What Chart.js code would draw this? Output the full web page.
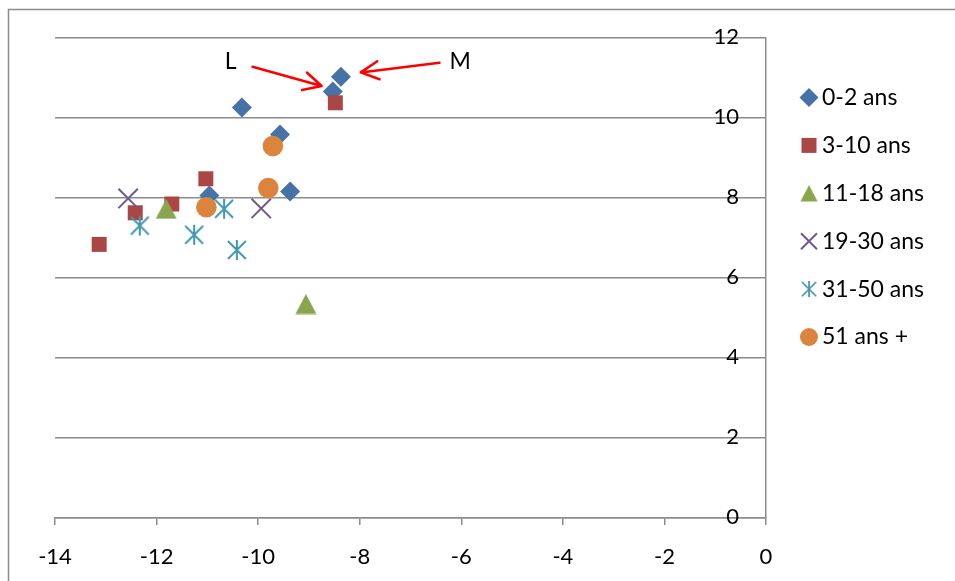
<!DOCTYPE html>
<html>
<head>
<meta charset="utf-8">
<script src="https://cdn.jsdelivr.net/npm/chart.js@4/dist/chart.umd.min.js"></script>
<style>
  html, body { margin: 0; padding: 0; background: #ffffff; }
  #wrap { width: 955px; height: 581px; }
</style>
</head>
<body>
<div id="wrap"><canvas id="c" width="955" height="581"></canvas></div>
<script>
// Age groups
const groupNames = ['0-2 ans', '3-10 ans', '11-18 ans', '19-30 ans', '31-50 ans', '51 ans +'];

// Coordinates of each group (x, y)
const age0_2x   = [-8.37, -8.53, -10.32, -9.57, -9.37, -10.96];
const age0_2y   = [11.03, 10.66, 10.26, 9.59, 8.16, 8.06];
const age3_10x  = [-8.48, -11.03, -11.70, -12.42, -13.13];
const age3_10y  = [10.38, 8.48, 7.85, 7.63, 6.84];
const age11_18x = [-11.81, -9.06];
const age11_18y = [7.73, 5.35];
const age19_30x = [-12.56, -9.94];
const age19_30y = [7.99, 7.74];
const age31_50x = [-12.33, -11.26, -10.67, -10.42];
const age31_50y = [7.31, 7.08, 7.73, 6.70];
const age51x    = [-9.71, -9.80, -11.02];
const age51y    = [9.30, 8.25, 7.77];

// Axis ranges
const xRange = [-14, 0];
const yRange = [0, 12];
const tickStep = 2;

// Callout labels and arrows (data units)
const calloutText = ['L', 'M'];
const calloutTextPos = [[-10.54, 11.41], [-6.02, 11.42]];
const calloutArrowFrom = [[-10.11, 11.28], [-6.43, 11.38]];
const calloutArrowTo = [[-8.75, 10.80], [-7.98, 11.14]];

const FONT = 'Lato, "Open Sans", sans-serif';

function pairs(xs, ys) { return xs.map((x, i) => ({ x: x, y: ys[i] })); }

// Filled triangle marker
function makeTriangle(color) {
  const c = document.createElement('canvas');
  c.width = 22; c.height = 21;
  const g = c.getContext('2d');
  g.fillStyle = color;
  g.beginPath();
  g.moveTo(11, 0.5); g.lineTo(21.5, 20.5); g.lineTo(0.5, 20.5); g.closePath();
  g.fill();
  return c;
}
// Six-armed asterisk marker
function makeAsterisk(color) {
  const c = document.createElement('canvas');
  c.width = 22; c.height = 22;
  const g = c.getContext('2d');
  g.strokeStyle = color; g.lineWidth = 2;
  g.beginPath();
  g.moveTo(11, 1); g.lineTo(11, 21);
  g.moveTo(2, 2); g.lineTo(20, 20);
  g.moveTo(20, 2); g.lineTo(2, 20);
  g.stroke();
  return c;
}

const triMarker = makeTriangle('#89a54e');
const starMarker = makeAsterisk('#4198af');

const datasets = [
  { label: groupNames[0], data: pairs(age0_2x, age0_2y), pointStyle: 'rectRot', pointRadius: 10,
    pointBackgroundColor: '#4572a7', pointBorderColor: '#4572a7', pointBorderWidth: 0, legendRadius: 9.5 },
  { label: groupNames[1], data: pairs(age3_10x, age3_10y), pointStyle: 'rect', pointRadius: 10.6,
    pointBackgroundColor: '#aa4643', pointBorderColor: '#aa4643', pointBorderWidth: 0, legendRadius: 10.6 },
  { label: groupNames[2], data: pairs(age11_18x, age11_18y), pointStyle: triMarker, pointRadius: 11,
    pointBackgroundColor: '#89a54e', pointBorderColor: '#89a54e', pointBorderWidth: 0, legendScale: 0.82 },
  { label: groupNames[3], data: pairs(age19_30x, age19_30y), pointStyle: 'crossRot', pointRadius: 13.7,
    pointBackgroundColor: '#71588f', pointBorderColor: '#71588f', pointBorderWidth: 2, legendRadius: 11.3 },
  { label: groupNames[4], data: pairs(age31_50x, age31_50y), pointStyle: starMarker, pointRadius: 11,
    pointBackgroundColor: '#4198af', pointBorderColor: '#4198af', pointBorderWidth: 0, legendScale: 0.8 },
  { label: groupNames[5], data: pairs(age51x, age51y), pointStyle: 'circle', pointRadius: 10.3,
    pointBackgroundColor: '#db843d', pointBorderColor: '#db843d', pointBorderWidth: 0, legendRadius: 9 }
].map((d, i) => Object.assign(d, { showLine: false, order: -i, pointHoverRadius: d.pointRadius }));

// Outer frame of the chart object
const framePlugin = {
  id: 'frame',
  beforeDraw(chart) {
    const ctx = chart.ctx;
    ctx.save();
    ctx.fillStyle = '#ffffff';
    ctx.fillRect(0, 0, chart.width, chart.height);
    ctx.strokeStyle = '#8c8c8c';
    ctx.lineWidth = 1.5;
    ctx.strokeRect(8.5, 9.5, chart.width + 20, chart.height + 20);
    ctx.restore();
  }
};

// Centre the value-axis numbers optically on their gridlines
const yLabelNudge = {
  id: 'yLabelNudge',
  beforeDraw(chart) {
    const s = chart.scales.y;
    const items = s.getLabelItems();
    if (!items._nudged) {
      items.forEach(it => { it.options.translation[1] -= 1.5; });
      items._nudged = true;
    }
  }
};

// Legend on the right, one marker + label per group
const sideLegend = {
  id: 'sideLegend',
  afterDraw(chart) {
    const ctx = chart.ctx;
    const area = chart.chartArea;
    const mx = area.right + 43, tx = area.right + 56;
    const y0 = 97.5, dy = 47.9;
    chart.data.datasets.forEach((ds, i) => {
      const y = y0 + i * dy;
      ctx.save();
      ctx.fillStyle = ds.pointBackgroundColor;
      ctx.strokeStyle = ds.pointBorderColor;
      ctx.lineWidth = ds.pointBorderWidth;
      if (ds.pointStyle instanceof HTMLCanvasElement) {
        const s = ds.legendScale || 1;
        const w = ds.pointStyle.width * s, h = ds.pointStyle.height * s;
        ctx.drawImage(ds.pointStyle, mx - w / 2, y - h / 2, w, h);
      } else {
        Chart.helpers.drawPoint(ctx, { pointStyle: ds.pointStyle, radius: ds.legendRadius, rotation: 0,
          borderWidth: ds.pointBorderWidth }, mx, y);
      }
      ctx.fillStyle = '#000000';
      ctx.font = '23px ' + FONT;
      ctx.textAlign = 'left';
      ctx.textBaseline = 'middle';
      ctx.fillText(ds.label, tx, y);
      ctx.restore();
    });
  }
};

// "L" and "M" callouts with red arrows
const callouts = {
  id: 'callouts',
  afterDatasetsDraw(chart) {
    const ctx = chart.ctx;
    const xs = chart.scales.x, ys = chart.scales.y;
    ctx.save();
    ctx.font = '23px ' + FONT;
    ctx.fillStyle = '#000000';
    ctx.textAlign = 'center';
    ctx.textBaseline = 'middle';
    calloutText.forEach((t, i) => {
      ctx.fillText(t, xs.getPixelForValue(calloutTextPos[i][0]), ys.getPixelForValue(calloutTextPos[i][1]));
    });
    ctx.strokeStyle = '#ff0000';
    ctx.lineWidth = 2.5;
    ctx.lineCap = 'round';
    ctx.lineJoin = 'round';
    calloutArrowFrom.forEach((f, i) => {
      const x1 = xs.getPixelForValue(f[0]), y1 = ys.getPixelForValue(f[1]);
      const x2 = xs.getPixelForValue(calloutArrowTo[i][0]), y2 = ys.getPixelForValue(calloutArrowTo[i][1]);
      const a = Math.atan2(y1 - y2, x1 - x2);
      const len = 20, spread = 27 * Math.PI / 180;
      ctx.beginPath();
      ctx.moveTo(x1, y1); ctx.lineTo(x2, y2);
      ctx.moveTo(x2 + len * Math.cos(a - spread), y2 + len * Math.sin(a - spread));
      ctx.lineTo(x2, y2);
      ctx.lineTo(x2 + len * Math.cos(a + spread), y2 + len * Math.sin(a + spread));
      ctx.stroke();
    });
    ctx.restore();
  }
};

new Chart(document.getElementById('c'), {
  type: 'scatter',
  data: { datasets: datasets },
  options: {
    responsive: false,
    devicePixelRatio: 1,
    animation: false,
    events: [],
    layout: { padding: { left: 55, right: 189, top: 38, bottom: 0 } },
    plugins: { legend: { display: false }, tooltip: { enabled: false } },
    scales: {
      x: {
        type: 'linear', position: 'bottom',
        min: xRange[0], max: xRange[1],
        afterFit(s) { s.height = 63; },
        ticks: { stepSize: tickStep, color: '#000000', padding: 19,
          font: { family: FONT, size: 22 }, maxRotation: 0,
          callback: v => String(v) },
        grid: { drawOnChartArea: false, drawTicks: true, tickLength: 7, color: '#8c8c8c', lineWidth: 1.5 },
        border: { display: true, color: '#8c8c8c', width: 1.5 }
      },
      y: {
        type: 'linear', position: 'right',
        min: yRange[0], max: yRange[1],
        afterFit(s) { s.width = 0; },
        ticks: { stepSize: tickStep, color: '#000000', mirror: true, padding: -27,
          font: { family: FONT, size: 22 }, callback: v => String(v) },
        grid: { drawTicks: false, color: '#8c8c8c', lineWidth: 1.5 },
        border: { display: true, color: '#8c8c8c', width: 1.5 }
      }
    }
  },
  plugins: [framePlugin, yLabelNudge, callouts, sideLegend]
});
</script>
</body>
</html>
